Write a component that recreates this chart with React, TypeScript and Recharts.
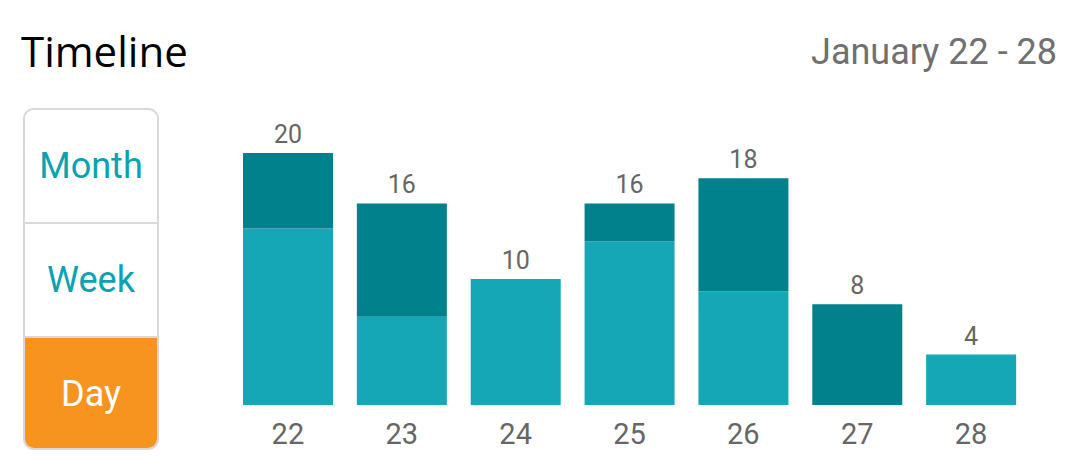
import { Bar, BarChart, LabelList, XAxis, YAxis } from 'recharts';

const days = ['22', '23', '24', '25', '26', '27', '28'];
const lightValues = [14, 7, 10, 13, 9, 0, 4];
const darkValues = [6, 9, 0, 3, 9, 8, 0];
const viewOptions = ['Month', 'Week', 'Day'];
const activeView = 'Day';

const chartData = days.map((day, i) => ({
  day,
  light: lightValues[i],
  dark: darkValues[i],
  total: lightValues[i] + darkValues[i],
}));

const LIGHT = '#16a7b7';
const DARK = '#00818b';
const ORANGE = '#f7941f';
const TEAL_TEXT = '#0aa2b1';

function TotalLabel(props: any) {
  const { x, y, width, value } = props;
  if (value === null || value === undefined) return null;
  return (
    <text
      x={x + width / 2}
      y={y - 10}
      textAnchor="middle"
      fill="#666"
      fontSize={25}
      fontFamily="Roboto"
    >
      {value}
    </text>
  );
}

// top segment of each stack carries the total
const lightTopLabel = (entry: any) => {
  const p = entry?.payload ?? entry;
  return p && p.dark === 0 ? p.total : null;
};
const darkTopLabel = (entry: any) => {
  const p = entry?.payload ?? entry;
  return p && p.dark > 0 ? p.total : null;
};

function ViewSwitch() {
  return (
    <div
      style={{
        position: 'absolute',
        left: 23,
        top: 108,
        width: 136,
        height: 342,
        border: '2px solid #d9d9d9',
        borderRadius: 11,
        boxSizing: 'border-box',
        overflow: 'hidden',
        display: 'flex',
        flexDirection: 'column',
      }}
    >
      {viewOptions.map((opt, i) => {
        const active = opt === activeView;
        return (
          <div
            key={opt}
            style={{
              flex: 1,
              display: 'flex',
              alignItems: 'center',
              justifyContent: 'center',
              fontFamily: 'Roboto',
              fontSize: 36,
              color: active ? '#fff' : TEAL_TEXT,
              background: active ? ORANGE : '#fff',
              borderTop: i > 0 ? '2px solid #d9d9d9' : 'none',
              margin: active ? '0 -2px -2px -2px' : 0,
            }}
          >
            {opt}
          </div>
        );
      })}
    </div>
  );
}

export default function App() {
  return (
    <div
      style={{
        position: 'absolute',
        left: 0,
        top: 0,
        width: 1080,
        height: 470,
        background: '#fff',
      }}
    >
      <div
        style={{
          position: 'absolute',
          left: 21,
          top: 22,
          fontFamily: 'Open Sans',
          fontSize: 42,
          color: '#000',
        }}
      >
        Timeline
      </div>
      <div
        style={{
          position: 'absolute',
          right: 23,
          top: 31,
          fontFamily: 'Roboto',
          fontSize: 36,
          color: '#707070',
        }}
      >
        January 22 - 28
      </div>
      <ViewSwitch />
      <div style={{ position: 'absolute', left: 0, top: 0 }}>
        <BarChart
          width={1080}
          height={470}
          data={chartData}
          margin={{ top: 153, left: 231, right: 52, bottom: 25 }}
        >
          <XAxis
            dataKey="day"
            axisLine={false}
            tickLine={false}
            height={40}
            tickMargin={12}
            tick={{ fontSize: 29, fill: '#666', fontFamily: 'Roboto' }}
          />
          <YAxis hide domain={[0, 20]} />
          <Bar dataKey="light" stackId="a" fill={LIGHT} barSize={90} isAnimationActive={false}>
            <LabelList valueAccessor={lightTopLabel} content={TotalLabel} />
          </Bar>
          <Bar dataKey="dark" stackId="a" fill={DARK} barSize={90} isAnimationActive={false}>
            <LabelList valueAccessor={darkTopLabel} content={TotalLabel} />
          </Bar>
        </BarChart>
      </div>
    </div>
  );
}
